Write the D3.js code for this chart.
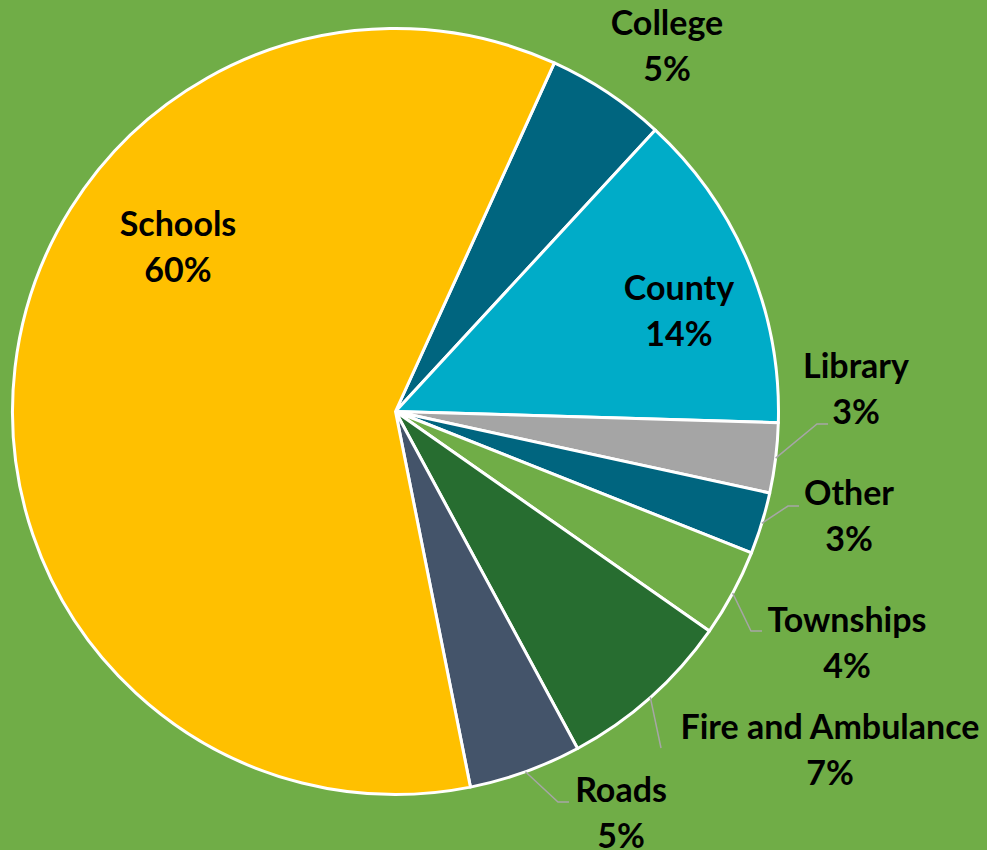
<!DOCTYPE html>
<html>
<head>
<meta charset="utf-8">
<script src="https://cdn.jsdelivr.net/npm/d3@7"></script>
<style>
  html, body { margin: 0; padding: 0; background: #70AD47; }
  svg { display: block; }
</style>
</head>
<body>
<div id="chart"></div>
<script>
// data, clockwise from the top right
const categories = ["College", "County", "Library", "Other", "Townships", "Fire and Ambulance", "Roads", "Schools"];
const values = [5.06, 13.6, 2.95, 2.6, 3.7, 7.4, 4.75, 59.94];
const colors = ["#00657F", "#00ACC8", "#A5A5A5", "#00657F", "#70AD47", "#276D30", "#44546A", "#FFC000"];

// label anchors: [center x, first baseline y, leader end x, leader end y] (null = no leader)
const labelLayout = [
  [667, 35, null, null],
  [679, 300, null, null],
  [856, 378, 828, 424],
  [849, 505, 799, 506],
  [847, 632, 762, 631],
  [830, 739, 661, 748],
  [621, 802, 569, 802],
  [178, 236, null, null]
];

const width = 987;
const height = 850;
const cx = 395.5, cy = 411.5, radius = 383;
const lineGap = 46;
const fmt = d3.format(".0%");
const total = d3.sum(values);

const svg = d3.select("#chart").append("svg")
    .attr("width", width)
    .attr("height", height)
    .attr("viewBox", [0, 0, width, height]);

svg.append("rect")
    .attr("width", width)
    .attr("height", height)
    .attr("fill", "#70AD47");

const pie = d3.pie()
    .sort(null)
    .startAngle(24.5 * Math.PI / 180)
    .endAngle(24.5 * Math.PI / 180 + 2 * Math.PI)
    .value(d => d);

const arcs = pie(values);
const arc = d3.arc().innerRadius(0).outerRadius(radius);

const g = svg.append("g").attr("transform", `translate(${cx},${cy})`);

g.selectAll("path")
  .data(arcs)
  .join("path")
    .attr("d", arc)
    .attr("fill", (d, i) => colors[i])
    .attr("stroke", "#fff")
    .attr("stroke-width", 3)
    .attr("stroke-linejoin", "round");

// leader lines
const leaders = svg.append("g")
    .attr("fill", "none")
    .attr("stroke", "#A6A6A6")
    .attr("stroke-width", 1.5);

arcs.forEach((d, i) => {
  const [lx, ly, ex, ey] = labelLayout[i];
  if (ex === null) return;
  const a = (d.startAngle + d.endAngle) / 2;
  const sx = cx + radius * Math.sin(a);
  const sy = cy - radius * Math.cos(a);
  const pts = [[sx, sy]];
  if (Math.abs(ey - sy) > 40 && Math.abs(ex - sx) < 20) {
    pts.push([ex, ey]);
  } else {
    pts.push([ex - 11, ey], [ex, ey]);
  }
  leaders.append("path").attr("d", d3.line()(pts));
});

// labels
const labels = svg.append("g")
    .style("font-family", "Lato, 'Open Sans', sans-serif")
    .style("font-weight", "700")
    .style("font-size", "34px")
    .attr("fill", "#000")
    .attr("text-anchor", "middle");

arcs.forEach((d, i) => {
  const [lx, ly] = labelLayout[i];
  const t = labels.append("text").attr("x", lx).attr("y", ly);
  t.append("tspan").attr("x", lx).text(categories[i]);
  t.append("tspan").attr("x", lx).attr("dy", lineGap).text(fmt(d.value / total));
});
</script>
</body>
</html>
